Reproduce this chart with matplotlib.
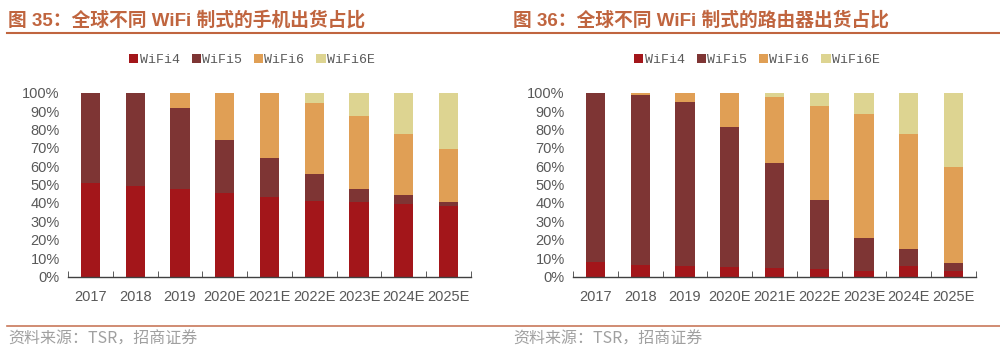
import numpy as np
import matplotlib
matplotlib.use("Agg")
import matplotlib.pyplot as plt

plt.rcParams['font.family'] = ['Liberation Sans', 'Noto Sans CJK SC', 'DejaVu Sans']

years = ['2017', '2018', '2019', '2020E', '2021E', '2022E', '2023E', '2024E', '2025E']
series = ['WiFi4', 'WiFi5', 'WiFi6', 'WiFi6E']

# 手机 (percent)
phone_wifi4 = [51, 49, 47.5, 45.5, 43.5, 41, 40.5, 39.5, 38.5]
phone_wifi5 = [49, 51, 44, 29, 21, 15, 7, 5, 2]
phone_wifi6 = [0, 0, 8.5, 25.5, 35.5, 38.5, 40, 33, 29]
phone_wifi6e = [0, 0, 0, 0, 0, 5.5, 12.5, 22.5, 30.5]

# 路由器 (percent)
router_wifi4 = [8, 6.5, 5.5, 5, 4.5, 4, 3, 5.5, 3]
router_wifi5 = [92, 92, 89.5, 76.5, 57, 37.5, 18, 9.5, 4.5]
router_wifi6 = [0, 1.5, 5, 18.5, 36, 51.5, 67.5, 62.5, 52]
router_wifi6e = [0, 0, 0, 0, 2.5, 7, 11.5, 22.5, 40.5]

titles = ['图 35：全球不同 WiFi 制式的手机出货占比', '图 36：全球不同 WiFi 制式的路由器出货占比']
source = '资料来源：TSR，招商证券'

colors = ['#A3161A', '#7E3534', '#E09F55', '#DDD491']
title_col = '#C0653F'
grey = '#595959'

fig = plt.figure(figsize=(10, 3.56), dpi=100)

panels = [
    (0.068, [phone_wifi4, phone_wifi5, phone_wifi6, phone_wifi6e], 0.252),
    (0.573, [router_wifi4, router_wifi5, router_wifi6, router_wifi6e], 0.757),
]

for k, (left, data, legx) in enumerate(panels):
    ax = fig.add_axes([left, 0.2233, 0.403, 0.5163])
    x = np.arange(len(years))
    bottom = np.zeros(len(years))
    for name, vals, c in zip(series, data, colors):
        v = np.array(vals) / 100.0
        ax.bar(x, v, 0.43, bottom=bottom, color=c, label=name)
        bottom += v
    ax.set_xlim(-0.5, len(years) - 0.5)
    ax.set_ylim(0, 1)
    ax.set_yticks(np.arange(0, 1.01, 0.1))
    ax.set_yticklabels(['%d%%' % (i * 10) for i in range(11)], color=grey, fontsize=10.5)
    ax.set_xticks(x)
    ax.set_xticklabels(years, color=grey, fontsize=10.5)
    ax.set_xticks(np.arange(-0.5, len(years)), minor=True)
    ax.tick_params(axis='x', which='major', length=0, pad=10)
    ax.tick_params(axis='x', which='minor', length=4, direction='in', color='#404040')
    ax.tick_params(axis='y', length=0, pad=6)
    for s in ['top', 'right', 'left']:
        ax.spines[s].set_visible(False)
    ax.spines['bottom'].set_color('#404040')
    ax.spines['bottom'].set_linewidth(1)
    ax.legend(loc='center', bbox_to_anchor=(legx, 0.831), bbox_transform=fig.transFigure,
              ncol=4, frameon=False, handlelength=0.7, handleheight=0.7, handletextpad=0.1,
              columnspacing=0.9, prop={'family': 'Liberation Mono', 'size': 9.5},
              labelcolor=grey)

    tx = 0.008 if k == 0 else 0.513
    fig.text(tx, 1 - 20 / 356, titles[k], fontsize=13.5, fontweight='bold', color=title_col,
             va='center', ha='left')
    fig.text(tx, 1 - 339 / 356, source, fontsize=11.5, color='#A0A0A0', va='center', ha='left',
             family=['Noto Sans CJK SC', 'DejaVu Sans'])

fig.add_artist(plt.Line2D([0.007, 1.0], [1 - 33 / 356] * 2, color=title_col, lw=1.5,
                          transform=fig.transFigure))
fig.add_artist(plt.Line2D([0.007, 1.0], [1 - 326 / 356] * 2, color='#C8785A', lw=1.2,
                          transform=fig.transFigure))

fig.savefig('out.png', dpi=100)
